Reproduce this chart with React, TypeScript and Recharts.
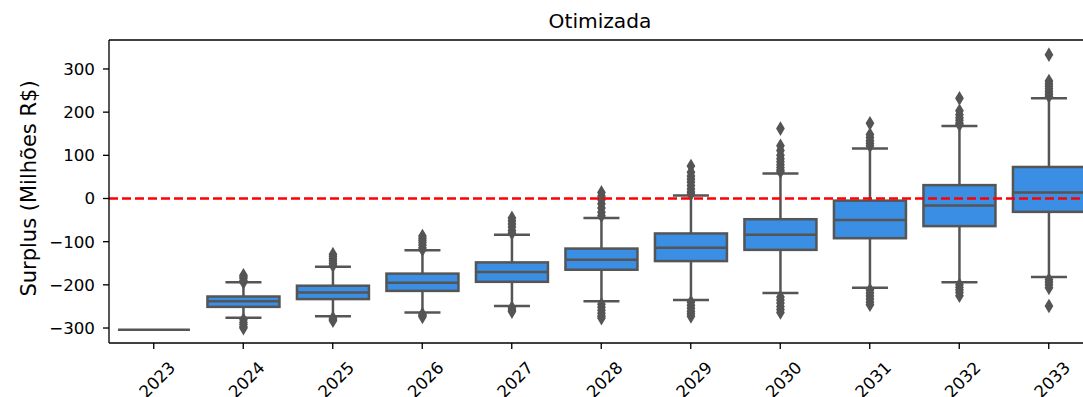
import React from 'react';
import { ComposedChart, Bar, XAxis, YAxis, ReferenceLine } from 'recharts';

// Simulated yearly surplus distribution (millions of R$)
const years = ['2023', '2024', '2025', '2026', '2027', '2028', '2029', '2030', '2031', '2032', '2033'];
const whiskerLow = [-304, -276, -273, -264, -249, -238, -235, -219, -207, -194, -182];
const q1 = [-304, -251, -233, -214, -193, -165, -145, -119, -92, -64, -31];
const median = [-304, -238, -218, -195, -170, -142, -114, -84, -50, -16, 14];
const q3 = [-304, -227, -202, -174, -148, -116, -81, -48, -5, 31, 73];
const whiskerHigh = [-304, -194, -158, -120, -84, -45, 7, 58, 116, 168, 232];

// Points beyond the whiskers, per year
const outliers: number[][] = [
  [],
  [-178, -181, -185, -190, -194, -281, -287, -292, -297, -300],
  [-129, -134, -139, -144, -150, -155, -277, -280, -283],
  [-87, -92, -97, -102, -108, -114, -118, -268, -271, -274],
  [-45, -52, -59, -66, -74, -80, -253, -258, -262],
  [14, 6, -3, -12, -22, -32, -40, -245, -252, -259, -266, -272, -277],
  [75, 61, 52, 45, 38, 30, 22, 15, 10, -240, -247, -254, -261, -267, -273],
  [162, 122, 111, 100, 92, 85, 78, 72, 66, 62, -228, -235, -242, -250, -257, -264],
  [174, 148, 141, 134, 128, 122, -212, -219, -226, -233, -240, -246],
  [232, 203, 194, 187, 181, 175, 171, -200, -206, -212, -218, -225],
  [333, 272, 266, 260, 254, 248, 242, 237, -188, -194, -200, -207, -249],
];

const yTicks = [-300, -200, -100, 0, 100, 200, 300];
const yDomain = [-334.7, 367.1];

const BOX_FILL = '#3a8ee3';
const LINE = '#555555';
const FONT = '"DejaVu Sans", sans-serif';
const LW = 2.5;
const SPINE = 1.33;

const data = years.map((year, i) => ({
  year,
  range: [whiskerLow[i], whiskerHigh[i]],
  lo: whiskerLow[i],
  q1: q1[i],
  med: median[i],
  q3: q3[i],
  hi: whiskerHigh[i],
  fliers: outliers[i],
}));

function BoxShape(props: any) {
  const { x, y, width, height, payload } = props;
  if (x == null || y == null || !payload) return null;
  const top = Math.min(y, y + (height || 0));
  const h = Math.abs(height || 0);
  const span = payload.hi - payload.lo;
  const py = (v: number) => (span === 0 ? top : top + ((payload.hi - v) / span) * h);
  const cx = x + width / 2;
  const capHalf = width / 4;
  if (span === 0) {
    return <line x1={x} x2={x + width} y1={top} y2={top} stroke={LINE} strokeWidth={LW} />;
  }
  const yq1 = py(payload.q1);
  const yq3 = py(payload.q3);
  const yMed = py(payload.med);
  const yHi = py(payload.hi);
  const yLo = py(payload.lo);
  return (
    <g>
      <rect x={x} y={yq3} width={width} height={yq1 - yq3} fill={BOX_FILL} stroke={LINE} strokeWidth={LW} />
      <line x1={cx} x2={cx} y1={yHi} y2={yq3} stroke={LINE} strokeWidth={LW} />
      <line x1={cx} x2={cx} y1={yq1} y2={yLo} stroke={LINE} strokeWidth={LW} />
      <line x1={cx - capHalf} x2={cx + capHalf} y1={yHi} y2={yHi} stroke={LINE} strokeWidth={LW} />
      <line x1={cx - capHalf} x2={cx + capHalf} y1={yLo} y2={yLo} stroke={LINE} strokeWidth={LW} />
      <line x1={x} x2={x + width} y1={yMed} y2={yMed} stroke={LINE} strokeWidth={LW} />
      {payload.fliers.map((v: number, k: number) => {
        const fy = py(v);
        return (
          <polygon
            key={k}
            points={`${cx},${fy - 5.9} ${cx + 3.5},${fy} ${cx},${fy + 5.9} ${cx - 3.5},${fy}`}
            fill={LINE}
            stroke={LINE}
            strokeWidth={1.5}
          />
        );
      })}
    </g>
  );
}

// Rotated year labels; they run past the bottom edge of the figure
function YearTick(props: any) {
  const { x, y, payload } = props;
  const cx = x + 3.3;
  const cy = y + 24.5;
  return (
    <text
      x={cx}
      y={cy}
      transform={`rotate(-45, ${cx}, ${cy})`}
      textAnchor="middle"
      dominantBaseline="central"
      fontFamily={FONT}
      fontSize={16.7}
      fill="#000"
    >
      {payload.value}
    </text>
  );
}

function YLabel(props: any) {
  const { viewBox } = props;
  const cy = viewBox.y + viewBox.height / 2 - 3;
  const x = 28.5;
  return (
    <text
      x={x}
      y={cy}
      transform={`rotate(-90, ${x}, ${cy})`}
      textAnchor="middle"
      dominantBaseline="central"
      fontFamily={FONT}
      fontSize={21}
      fill="#000"
    >
      Surplus (Milhões R$)
    </text>
  );
}

const fmtY = (v: number) => (v < 0 ? '\u2212' + Math.abs(v) : String(v));

export default function App() {
  return (
    <div style={{ position: 'absolute', left: 0, top: 0, width: 1083, height: 397, overflow: 'hidden', background: '#fff' }}>
      <div
        style={{
          position: 'absolute',
          left: 0,
          top: 9.4,
          width: 1200,
          textAlign: 'center',
          fontFamily: FONT,
          fontSize: 20.2,
          lineHeight: '24px',
          color: '#000',
        }}
      >
        Otimizada
      </div>
      <ComposedChart
        width={1100}
        height={397}
        data={data}
        margin={{ top: 40, right: 6.5, bottom: 0, left: 0 }}
        barCategoryGap="10%"
      >
        <XAxis
          dataKey="year"
          height={54}
          tickSize={6}
          tickMargin={6}
          tick={<YearTick />}
          axisLine={{ stroke: '#000', strokeWidth: SPINE }}
          tickLine={{ stroke: '#000', strokeWidth: SPINE }}
          interval={0}
        />
        <YAxis
          width={109}
          type="number"
          domain={yDomain}
          allowDataOverflow
          ticks={yTicks}
          tickFormatter={fmtY}
          tickSize={6}
          tickMargin={8}
          tick={{ fontFamily: FONT, fontSize: 16.7, fill: '#000' }}
          axisLine={{ stroke: '#000', strokeWidth: SPINE }}
          tickLine={{ stroke: '#000', strokeWidth: SPINE }}
          label={<YLabel />}
        />
        <Bar dataKey="range" isAnimationActive={false} shape={<BoxShape />} />
        <ReferenceLine y={yDomain[1]} stroke="#000" strokeWidth={SPINE} />
        <ReferenceLine y={0} stroke="#ff0000" strokeWidth={LW} strokeDasharray="9 4" />
      </ComposedChart>
    </div>
  );
}
